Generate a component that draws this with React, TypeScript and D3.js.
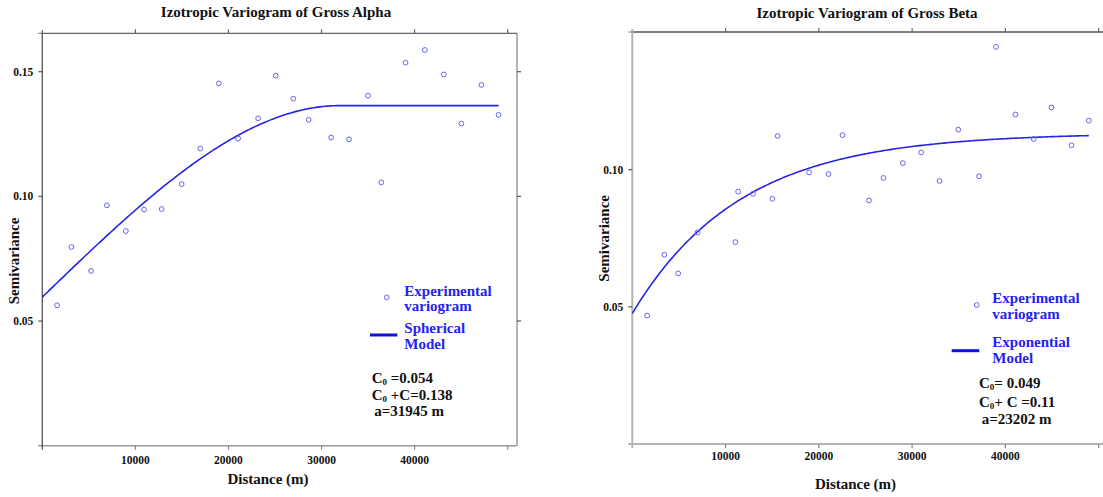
import React from "react";
import * as d3 from "d3";

// ---------- data ----------
const alphaDistance = [1584, 3130, 5241, 6938, 8975, 10935, 12821, 14970, 16968, 18967, 21041, 23190, 25075, 26961, 28620, 31033, 32956, 34992, 36425, 39027, 41101, 43137, 45023, 47172, 49020];
const alphaSemivariance = [0.0563, 0.0797, 0.0701, 0.0964, 0.0861, 0.0947, 0.0949, 0.1049, 0.1192, 0.1453, 0.1232, 0.1313, 0.1484, 0.1392, 0.1307, 0.1236, 0.1229, 0.1404, 0.1056, 0.1536, 0.1587, 0.1489, 0.1292, 0.1447, 0.1327];

const betaDistance = [1589, 3442, 4917, 6997, 11044, 11346, 12935, 15015, 15582, 18949, 21029, 22542, 25378, 26929, 29009, 30976, 32943, 34947, 37179, 38994, 41074, 43041, 44932, 47088, 48941];
const betaSemivariance = [0.0468, 0.069, 0.0622, 0.0771, 0.0736, 0.092, 0.0912, 0.0894, 0.1123, 0.099, 0.0984, 0.1126, 0.0888, 0.097, 0.1024, 0.1063, 0.0959, 0.1146, 0.0976, 0.1448, 0.1201, 0.1112, 0.1227, 0.1089, 0.1179];

// fitted model curves (as drawn)
const alphaModel = { nugget: 0.0596, sill: 0.1364, range: 31945, maxDistance: 49020 };
const betaModel = { nugget: 0.0476, partialSill: 0.0658, scale: 11600, maxDistance: 48941 };

const xTickValues = [10000, 20000, 30000, 40000, 50000];
const xTickLabels = ["10000", "20000", "30000", "40000", ""];
const alphaYTicks = [0.05, 0.1, 0.15];
const alphaYTickLabels = ["0.05", "0.10", "0.15"];
const betaYTicks = [0.05, 0.1];
const betaYTickLabels = ["0.05", "0.10"];

const alphaParams = [
  { pre: "C", sub: "0", post: " =0.054" },
  { pre: "C", sub: "0", post: " +C=0.138" },
  { pre: "a=31945 m", sub: "", post: "" },
];
const betaParams = [
  { pre: "C", sub: "0", post: "= 0.049" },
  { pre: "C", sub: "0", post: "+ C =0.11" },
  { pre: "a=23202 m", sub: "", post: "" },
];

const FONT = "'Liberation Serif', 'Times New Roman', serif";
const LINE_COLOR = "#2525e2";
const POINT_COLOR = "#6464f2";
const LEGEND_COLOR = "#2222f2";

function spherical(h: number) {
  const m = alphaModel;
  if (h >= m.range) return m.sill;
  const r = h / m.range;
  return m.nugget + (m.sill - m.nugget) * (1.5 * r - 0.5 * r * r * r);
}
function exponential(h: number) {
  const m = betaModel;
  return m.nugget + m.partialSill * (1 - Math.exp(-h / m.scale));
}

type PanelProps = {
  title: string;
  titleX: number;
  titleY: number;
  left: number;
  right: number;
  top: number;
  bottom: number;
  xMax: number;
  yMax: number;
  yTicks: number[];
  yTickLabels: string[];
  xLabelY: number;
  xTitleX: number;
  xTitleY: number;
  yTitleX: number;
  yTitleY: number;
  distances: number[];
  values: number[];
  model: (h: number) => number;
  modelMax: number;
  leftColor: string;
  leftWidth: number;
  rightColor: string;
  topColor: string;
  legend: { cx: number; cy: number; tx: number; t1: number; t2: number; lx1: number; lx2: number; ly: number; m1: string; m2: string; mt1: number; mt2: number };
  params: { pre: string; sub: string; post: string }[];
  paramX: number[];
  paramY: number[];
};

function Panel(p: PanelProps) {
  const x = d3.scaleLinear().domain([0, p.xMax]).range([p.left, p.right]);
  const y = d3.scaleLinear().domain([0, p.yMax]).range([p.bottom, p.top]);
  const samples = d3.range(0, p.modelMax, 200).concat([p.modelMax]);
  const line = d3
    .line<number>()
    .x((d) => x(d))
    .y((d) => y(p.model(d)));
  const tickFont = { fontFamily: FONT, fontWeight: 700, fontSize: 11.5, fill: "#111" } as const;
  const lg = p.legend;
  return (
    <g>
      <text x={p.titleX} y={p.titleY} textAnchor="middle" dominantBaseline="central" style={{ fontFamily: FONT, fontWeight: 700, fontSize: 15, fill: "#111" }}>
        {p.title}
      </text>
      {/* frame */}
      <line x1={p.left} x2={p.right} y1={p.bottom} y2={p.bottom} stroke="#9a9a9a" strokeWidth={1.5} />
      <line x1={p.left - 4} x2={p.left} y1={p.bottom} y2={p.bottom} stroke="#777" strokeWidth={1.2} />
      <line x1={p.right} x2={p.right} y1={p.top} y2={p.bottom} stroke={p.rightColor} strokeWidth={2} />
      <line x1={p.left} x2={p.right} y1={p.top} y2={p.top} stroke={p.topColor} strokeWidth={1.3} />
      <line x1={p.left} x2={p.left} y1={p.top - 3} y2={p.bottom + 4} stroke={p.leftColor} strokeWidth={p.leftWidth} />
      <line x1={p.left - 4} x2={p.left} y1={p.top} y2={p.top} stroke="#777" strokeWidth={1} />
      {/* x ticks */}
      {xTickValues.map((v, i) => (
        <g key={"xt" + i}>
          <line x1={x(v)} x2={x(v)} y1={p.top} y2={p.top - 4} stroke="#666" strokeWidth={1.2} />
          <line x1={x(v)} x2={x(v)} y1={p.bottom} y2={p.bottom + 4} stroke="#888" strokeWidth={1.2} />
          {xTickLabels[i] ? (
            <text x={x(v)} y={p.xLabelY} textAnchor="middle" dominantBaseline="central" style={tickFont}>
              {xTickLabels[i]}
            </text>
          ) : null}
        </g>
      ))}
      {/* y ticks */}
      {p.yTicks.map((v, i) => (
        <g key={"yt" + i}>
          <line x1={p.left - 4} x2={p.left} y1={y(v)} y2={y(v)} stroke="#555" strokeWidth={1.2} />
          <line x1={p.right} x2={p.right + 4} y1={y(v)} y2={y(v)} stroke="#555" strokeWidth={1.2} />
          <text x={p.left - 9} y={y(v)} textAnchor="end" dominantBaseline="central" style={tickFont}>
            {p.yTickLabels[i]}
          </text>
        </g>
      ))}
      {/* axis titles */}
      <text x={p.xTitleX} y={p.xTitleY} textAnchor="middle" dominantBaseline="central" style={{ fontFamily: FONT, fontWeight: 700, fontSize: 15, fill: "#111" }}>
        Distance (m)
      </text>
      <text
        transform={`translate(${p.yTitleX},${p.yTitleY}) rotate(-90)`}
        textAnchor="middle"
        dominantBaseline="central"
        style={{ fontFamily: FONT, fontWeight: 700, fontSize: 15, fill: "#111" }}
      >
        Semivariance
      </text>
      {/* model */}
      <path d={line(samples) || ""} fill="none" stroke={LINE_COLOR} strokeWidth={1.6} />
      {/* points */}
      {p.distances.map((d, i) => (
        <circle key={"pt" + i} cx={x(d)} cy={y(p.values[i])} r={2.4} fill="none" stroke={POINT_COLOR} strokeWidth={1} />
      ))}
      {/* legend */}
      <circle cx={lg.cx} cy={lg.cy} r={2.4} fill="none" stroke={POINT_COLOR} strokeWidth={1} />
      <g style={{ fontFamily: FONT, fontWeight: 700, fontSize: 15, fill: LEGEND_COLOR }}>
        <text x={lg.tx} y={lg.t1} dominantBaseline="central">Experimental</text>
        <text x={lg.tx} y={lg.t2} dominantBaseline="central">variogram</text>
        <text x={lg.tx} y={lg.mt1} dominantBaseline="central">{lg.m1}</text>
        <text x={lg.tx} y={lg.mt2} dominantBaseline="central">{lg.m2}</text>
      </g>
      <line x1={lg.lx1} x2={lg.lx2} y1={lg.ly} y2={lg.ly} stroke="#1010e6" strokeWidth={3} />
      <g style={{ fontFamily: FONT, fontWeight: 700, fontSize: 15, fill: "#111" }}>
        {p.params.map((t, i) => (
          <text key={"pa" + i} x={p.paramX[i]} y={p.paramY[i]} dominantBaseline="central">
            <tspan>{t.pre}</tspan>
            {t.sub ? (
              <tspan fontSize={9} dy={4}>
                {t.sub}
              </tspan>
            ) : null}
            {t.sub ? <tspan dy={-4}>{t.post}</tspan> : null}
          </text>
        ))}
      </g>
    </g>
  );
}

export default function App() {
  return (
    <div style={{ position: "absolute", left: 0, top: 0 }}>
      <svg width={1103} height={497} style={{ display: "block", background: "#fff" }}>
        <Panel
          title="Izotropic Variogram of Gross Alpha"
          titleX={276}
          titleY={12}
          left={42.3}
          right={517}
          top={33.3}
          bottom={445.7}
          xMax={51000}
          yMax={0.1654}
          yTicks={alphaYTicks}
          yTickLabels={alphaYTickLabels}
          xLabelY={460}
          xTitleX={268}
          xTitleY={479}
          yTitleX={13.5}
          yTitleY={261}
          distances={alphaDistance}
          values={alphaSemivariance}
          model={spherical}
          modelMax={alphaModel.maxDistance}
          leftColor="#555"
          leftWidth={1.3}
          rightColor="#b4b4b4"
          topColor="#666"
          legend={{ cx: 386.7, cy: 297.3, tx: 404.3, t1: 290.7, t2: 306.3, lx1: 370, lx2: 397.3, ly: 335, m1: "Spherical", m2: "Model", mt1: 328.3, mt2: 344 }}
          params={alphaParams}
          paramX={[371.7, 371.7, 374.3]}
          paramY={[378.3, 394.7, 411]}
        />
        <Panel
          title="Izotropic Variogram of Gross Beta"
          titleX={867}
          titleY={12.7}
          left={632.3}
          right={1108}
          top={32}
          bottom={444}
          xMax={51000}
          yMax={0.1502}
          yTicks={betaYTicks}
          yTickLabels={betaYTickLabels}
          xLabelY={455.7}
          xTitleX={855.5}
          xTitleY={484.3}
          yTitleX={604}
          yTitleY={238.3}
          distances={betaDistance}
          values={betaSemivariance}
          model={exponential}
          modelMax={betaModel.maxDistance}
          leftColor="#b4b4b4"
          leftWidth={2}
          rightColor="#b4b4b4"
          topColor="#555"
          legend={{ cx: 976.7, cy: 305, tx: 992.3, t1: 298.3, t2: 314, lx1: 951.7, lx2: 979.3, ly: 350.7, m1: "Exponential", m2: "Model", mt1: 342.3, mt2: 358.3 }}
          params={betaParams}
          paramX={[979, 979, 981.7]}
          paramY={[382.7, 401.7, 419.3]}
        />
      </svg>
    </div>
  );
}
